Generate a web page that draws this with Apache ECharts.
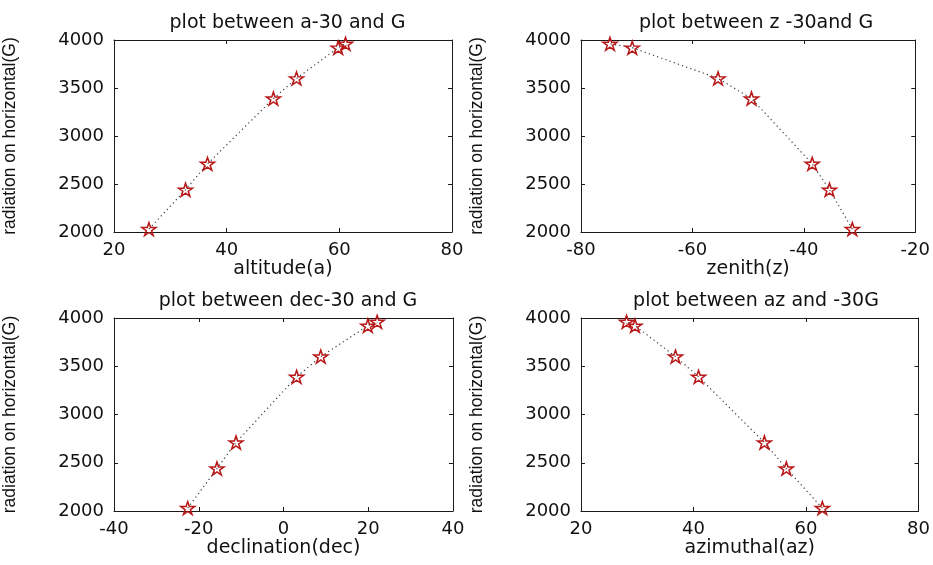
<!DOCTYPE html>
<html>
<head>
<meta charset="utf-8">
<script src="https://cdn.jsdelivr.net/npm/echarts@6/dist/echarts.min.js"></script>
<style>
html,body{margin:0;padding:0;background:#ffffff;}
#c{width:933px;height:565px;}
</style>
</head>
<body>
<div id="c"></div>
<script>
// ---- data ----
const G = [2030, 2440, 2710, 3390, 3600, 3920, 3960];
const altitude = [26.2, 32.7, 36.6, 48.3, 52.4, 59.8, 61.1];
const zenith = [-31.3, -35.4, -38.5, -49.4, -55.4, -70.8, -74.8];
const declination = [-22.6, -15.7, -11.2, 3.1, 8.8, 19.9, 22.1];
const azimuthal = [62.9, 56.5, 52.6, 40.9, 36.8, 29.6, 28.1];

const titles = ['plot between a-30 and G', 'plot between z -30and G', 'plot between dec-30 and G', 'plot between az and -30G'];
const xNames = ['altitude(a)', 'zenith(z)', 'declination(dec)', 'azimuthal(az)'];
const yName = 'radiation on horizontal(G)';
const xRanges = [[20, 80, 20], [-80, -20, 20], [-40, 40, 20], [20, 80, 20]];
const yRange = [2000, 4000, 500];
const xValues = [altitude, zenith, declination, azimuthal];

// ---- layout ----
const grids = [
  {left: 113, top: 40, width: 339, height: 192},
  {left: 581, top: 40, width: 340, height: 192},
  {left: 113, top: 318, width: 340, height: 193},
  {left: 581, top: 318, width: 340, height: 193}
];

const FONT = 'DejaVu Sans';
const TXT = '#111111';
const STAR = 'path://M50,0 L61.2,34.5 L97.6,34.5 L68.2,55.9 L79.4,90.5 L50,69.1 L20.6,90.5 L31.8,55.9 L2.4,34.5 L38.8,34.5 Z';

const option = {
  backgroundColor: '#ffffff',
  animation: false,
  title: [],
  grid: [],
  xAxis: [],
  yAxis: [],
  series: []
};

const lineStyle = {color: '#1a1a1a', width: 1};
const tickStyle = {show: true, inside: true, length: 4, lineStyle: {color: '#1a1a1a', width: 1}};
const plain = v => String(v);

grids.forEach((g, i) => {
  option.grid.push(Object.assign({containLabel: false}, g));
  option.title.push({
    text: titles[i],
    left: g.left + g.width / 2,
    top: g.top - 31,
    textAlign: 'center',
    textStyle: {fontFamily: FONT, fontSize: 19, fontWeight: 'normal', color: TXT}
  });
  const [xmin, xmax, xint] = xRanges[i];
  // bottom x axis
  option.xAxis.push({
    type: 'value', gridIndex: i, position: 'bottom',
    min: xmin, max: xmax, interval: xint,
    name: xNames[i], nameLocation: 'middle', nameGap: 26,
    nameTextStyle: {fontFamily: FONT, fontSize: 19, color: TXT},
    axisLine: {show: true, onZero: false, lineStyle},
    axisTick: tickStyle,
    axisLabel: {fontFamily: FONT, fontSize: 18, color: TXT, margin: 9, formatter: plain},
    splitLine: {show: false}
  });
  // top x axis (box + ticks)
  option.xAxis.push({
    type: 'value', gridIndex: i, position: 'top',
    min: xmin, max: xmax, interval: xint,
    axisLine: {show: true, onZero: false, lineStyle},
    axisTick: tickStyle,
    axisLabel: {show: false},
    splitLine: {show: false}
  });
  // left y axis
  option.yAxis.push({
    type: 'value', gridIndex: i, position: 'left',
    min: yRange[0], max: yRange[1], interval: yRange[2],
    name: yName, nameLocation: 'middle', nameGap: 95, nameRotate: 90,
    nameTextStyle: {fontFamily: 'Liberation Sans', fontSize: 17.5, color: TXT},
    axisLine: {show: true, onZero: false, lineStyle},
    axisTick: tickStyle,
    axisLabel: {fontFamily: FONT, fontSize: 18, color: TXT, margin: 10, formatter: plain},
    splitLine: {show: false}
  });
  // right y axis (box + ticks)
  option.yAxis.push({
    type: 'value', gridIndex: i, position: 'right',
    min: yRange[0], max: yRange[1], interval: yRange[2],
    axisLine: {show: true, onZero: false, lineStyle},
    axisTick: tickStyle,
    axisLabel: {show: false},
    splitLine: {show: false}
  });
  option.series.push({
    type: 'line',
    xAxisIndex: 2 * i,
    yAxisIndex: 2 * i,
    data: xValues[i].map((x, k) => [x, G[k]]),
    symbol: STAR,
    symbolSize: [14, 13],
    showSymbol: true,
    lineStyle: {color: '#3a3a3a', width: 1.2, type: [1.2, 3.2]},
    itemStyle: {color: 'rgba(255,255,255,0)', borderColor: '#b81818', borderWidth: 1.5},
    emphasis: {disabled: true},
    z: 3
  });
});

const chart = echarts.init(document.getElementById('c'), null, {renderer: 'canvas'});
chart.setOption(option);
</script>
</body>
</html>
